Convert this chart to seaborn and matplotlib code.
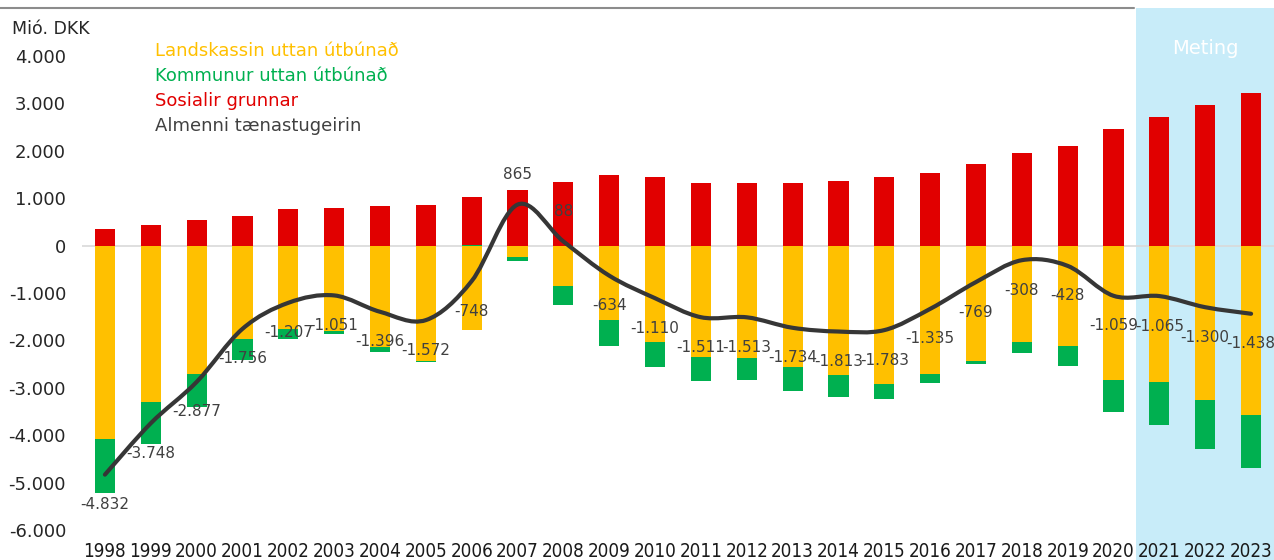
import numpy as np
import pandas as pd
import matplotlib
matplotlib.use("Agg")
import matplotlib.pyplot as plt
import seaborn as sns
from matplotlib.path import Path
from matplotlib.patches import PathPatch, Rectangle
from matplotlib.transforms import blended_transform_factory
from matplotlib.lines import Line2D
from matplotlib.ticker import FuncFormatter, FixedLocator

# --- data (Mió. DKK) ---
years = [str(y) for y in range(1998, 2024)]
landskassin = [-4070, -3305, -2705, -1960, -1750, -1795, -2140, -2440, -1780, -250,
               -845, -1560, -2030, -2350, -2370, -2555, -2730, -2925, -2700, -2435,
               -2040, -2125, -2840, -2870, -3255, -3580]
kommunur = [-1140, -890, -705, -445, -230, -70, -100, -20, 20, -70,
            -415, -555, -535, -500, -465, -520, -460, -310, -190, -70,
            -220, -415, -680, -915, -1040, -1110]
sosialir = [360, 445, 540, 635, 770, 800, 825, 865, 1010, 1175,
            1340, 1485, 1455, 1330, 1330, 1315, 1355, 1440, 1535, 1725,
            1950, 2095, 2460, 2720, 2970, 3220]
almenni = [-4832, -3748, -2877, -1756, -1207, -1051, -1396, -1572, -748, 865,
           88, -634, -1110, -1511, -1513, -1734, -1813, -1783, -1335, -769,
           -308, -428, -1059, -1065, -1300, -1438]

series_names = ["Landskassin uttan útbúnað", "Kommunur uttan útbúnað",
                "Sosialir grunnar", "Almenni tænastugeirin"]
unit_label = "Mió. DKK"
forecast_label = "Meting"
forecast_start = 23  # index of 2021
y_ticks = list(range(-6000, 4001, 1000))

YELLOW = "#FFC000"
GREEN = "#00B050"
RED = "#E10000"
DARK = "#363636"
LABEL = "#404040"
SHADE = "#C8ECF9"

sns.set_theme(style="white")
plt.rcParams["font.family"] = ["DejaVu Sans"]

W, H = 1274, 560
fig = plt.figure(figsize=(W / 100, H / 100), dpi=100)
ax = fig.add_axes([82 / W, 30 / H, (1274 - 82) / W, (530 - 56) / H])
ax.set_facecolor("none")

df = pd.DataFrame({"year": years, "landskassin": landskassin,
                   "kommunur": kommunur, "sosialir": sosialir})
df["green_pos"] = df["kommunur"].clip(lower=0)
df["green_neg"] = df["kommunur"].clip(upper=0)
df["red_top"] = df["sosialir"] + df["green_pos"]
df["neg_bottom"] = df["landskassin"] + df["green_neg"]

# forecast band: spans from just under the top rule to the bottom of the figure
band = Rectangle((forecast_start - 0.5, 0), 10, 1 - 8 / H, facecolor=SHADE,
                 edgecolor="none", zorder=0, clip_on=False,
                 transform=blended_transform_factory(ax.transData, fig.transFigure))
ax.add_patch(band)

ax.axhline(0, color="#D9D9D9", lw=1.2, zorder=0.5)

common = dict(data=df, x="year", order=years, width=0.44, saturation=1,
              errorbar=None, linewidth=0, ax=ax)
sns.barplot(y="red_top", color=RED, **common)
sns.barplot(y="green_pos", color=GREEN, **common)
sns.barplot(y="neg_bottom", color=GREEN, **common)
sns.barplot(y="landskassin", color=YELLOW, **common)

# smoothed net line (Catmull-Rom segments as cubic Bezier curves)
pts = np.column_stack([np.arange(len(almenni), dtype=float),
                       np.asarray(almenni, dtype=float)])
ext = np.vstack([pts[0], pts, pts[-1]])
verts = [pts[0]]
codes = [Path.MOVETO]
for i in range(len(pts) - 1):
    p0, p1, p2, p3 = ext[i], ext[i + 1], ext[i + 2], ext[i + 3]
    verts += [p1 + (p2 - p0) / 6, p2 - (p3 - p1) / 6, p2]
    codes += [Path.CURVE4] * 3
ax.add_patch(PathPatch(Path(verts, codes), fill=False, edgecolor=DARK, lw=3,
                       capstyle="round", joinstyle="round", zorder=4))


def dk(v):
    return f"{v:,}".replace(",", ".")


for i, v in enumerate(almenni):
    off = 21.6 if v > 0 else -21.6
    ax.annotate(dk(v), (i, v), xytext=(0, off), textcoords="offset points",
                ha="center", va="center", fontsize=11, color=LABEL, zorder=5)

ax.set_xlim(-0.5, len(years) - 0.5)
ax.set_ylim(-6000, 4000)
ax.yaxis.set_major_locator(FixedLocator(y_ticks))
ax.yaxis.set_major_formatter(FuncFormatter(lambda v, p: dk(int(v))))
ax.set_xlabel("")
ax.set_ylabel("")
for s in ax.spines.values():
    s.set_visible(False)
ax.tick_params(axis="y", length=0, pad=11.5, labelsize=13, labelcolor="#262626")
ax.tick_params(axis="x", length=0, pad=8.5, labelsize=13.5, labelcolor="#1a1a1a")
for lab in ax.get_xticklabels():
    lab.set_fontfamily(["DejaVu Sans"])
    lab.set_fontstretch("condensed")

fig.add_artist(Line2D([0, 1134 / W], [1 - 7.5 / H] * 2, transform=fig.transFigure,
                      color="#8C8C8C", lw=1.5))

fig.text(12 / W, 1 - 29 / H, unit_label, fontsize=12.5, color="#262626",
         ha="left", va="center")
for name, col, yp in zip(series_names, [YELLOW, GREEN, RED, LABEL], [51, 76, 101, 126]):
    fig.text(155 / W, 1 - yp / H, name, fontsize=13, color=col, ha="left", va="center")
fig.text(1205 / W, 1 - 49 / H, forecast_label, fontsize=14, color="white",
         ha="center", va="center")

fig.savefig("out.png", dpi=100)
